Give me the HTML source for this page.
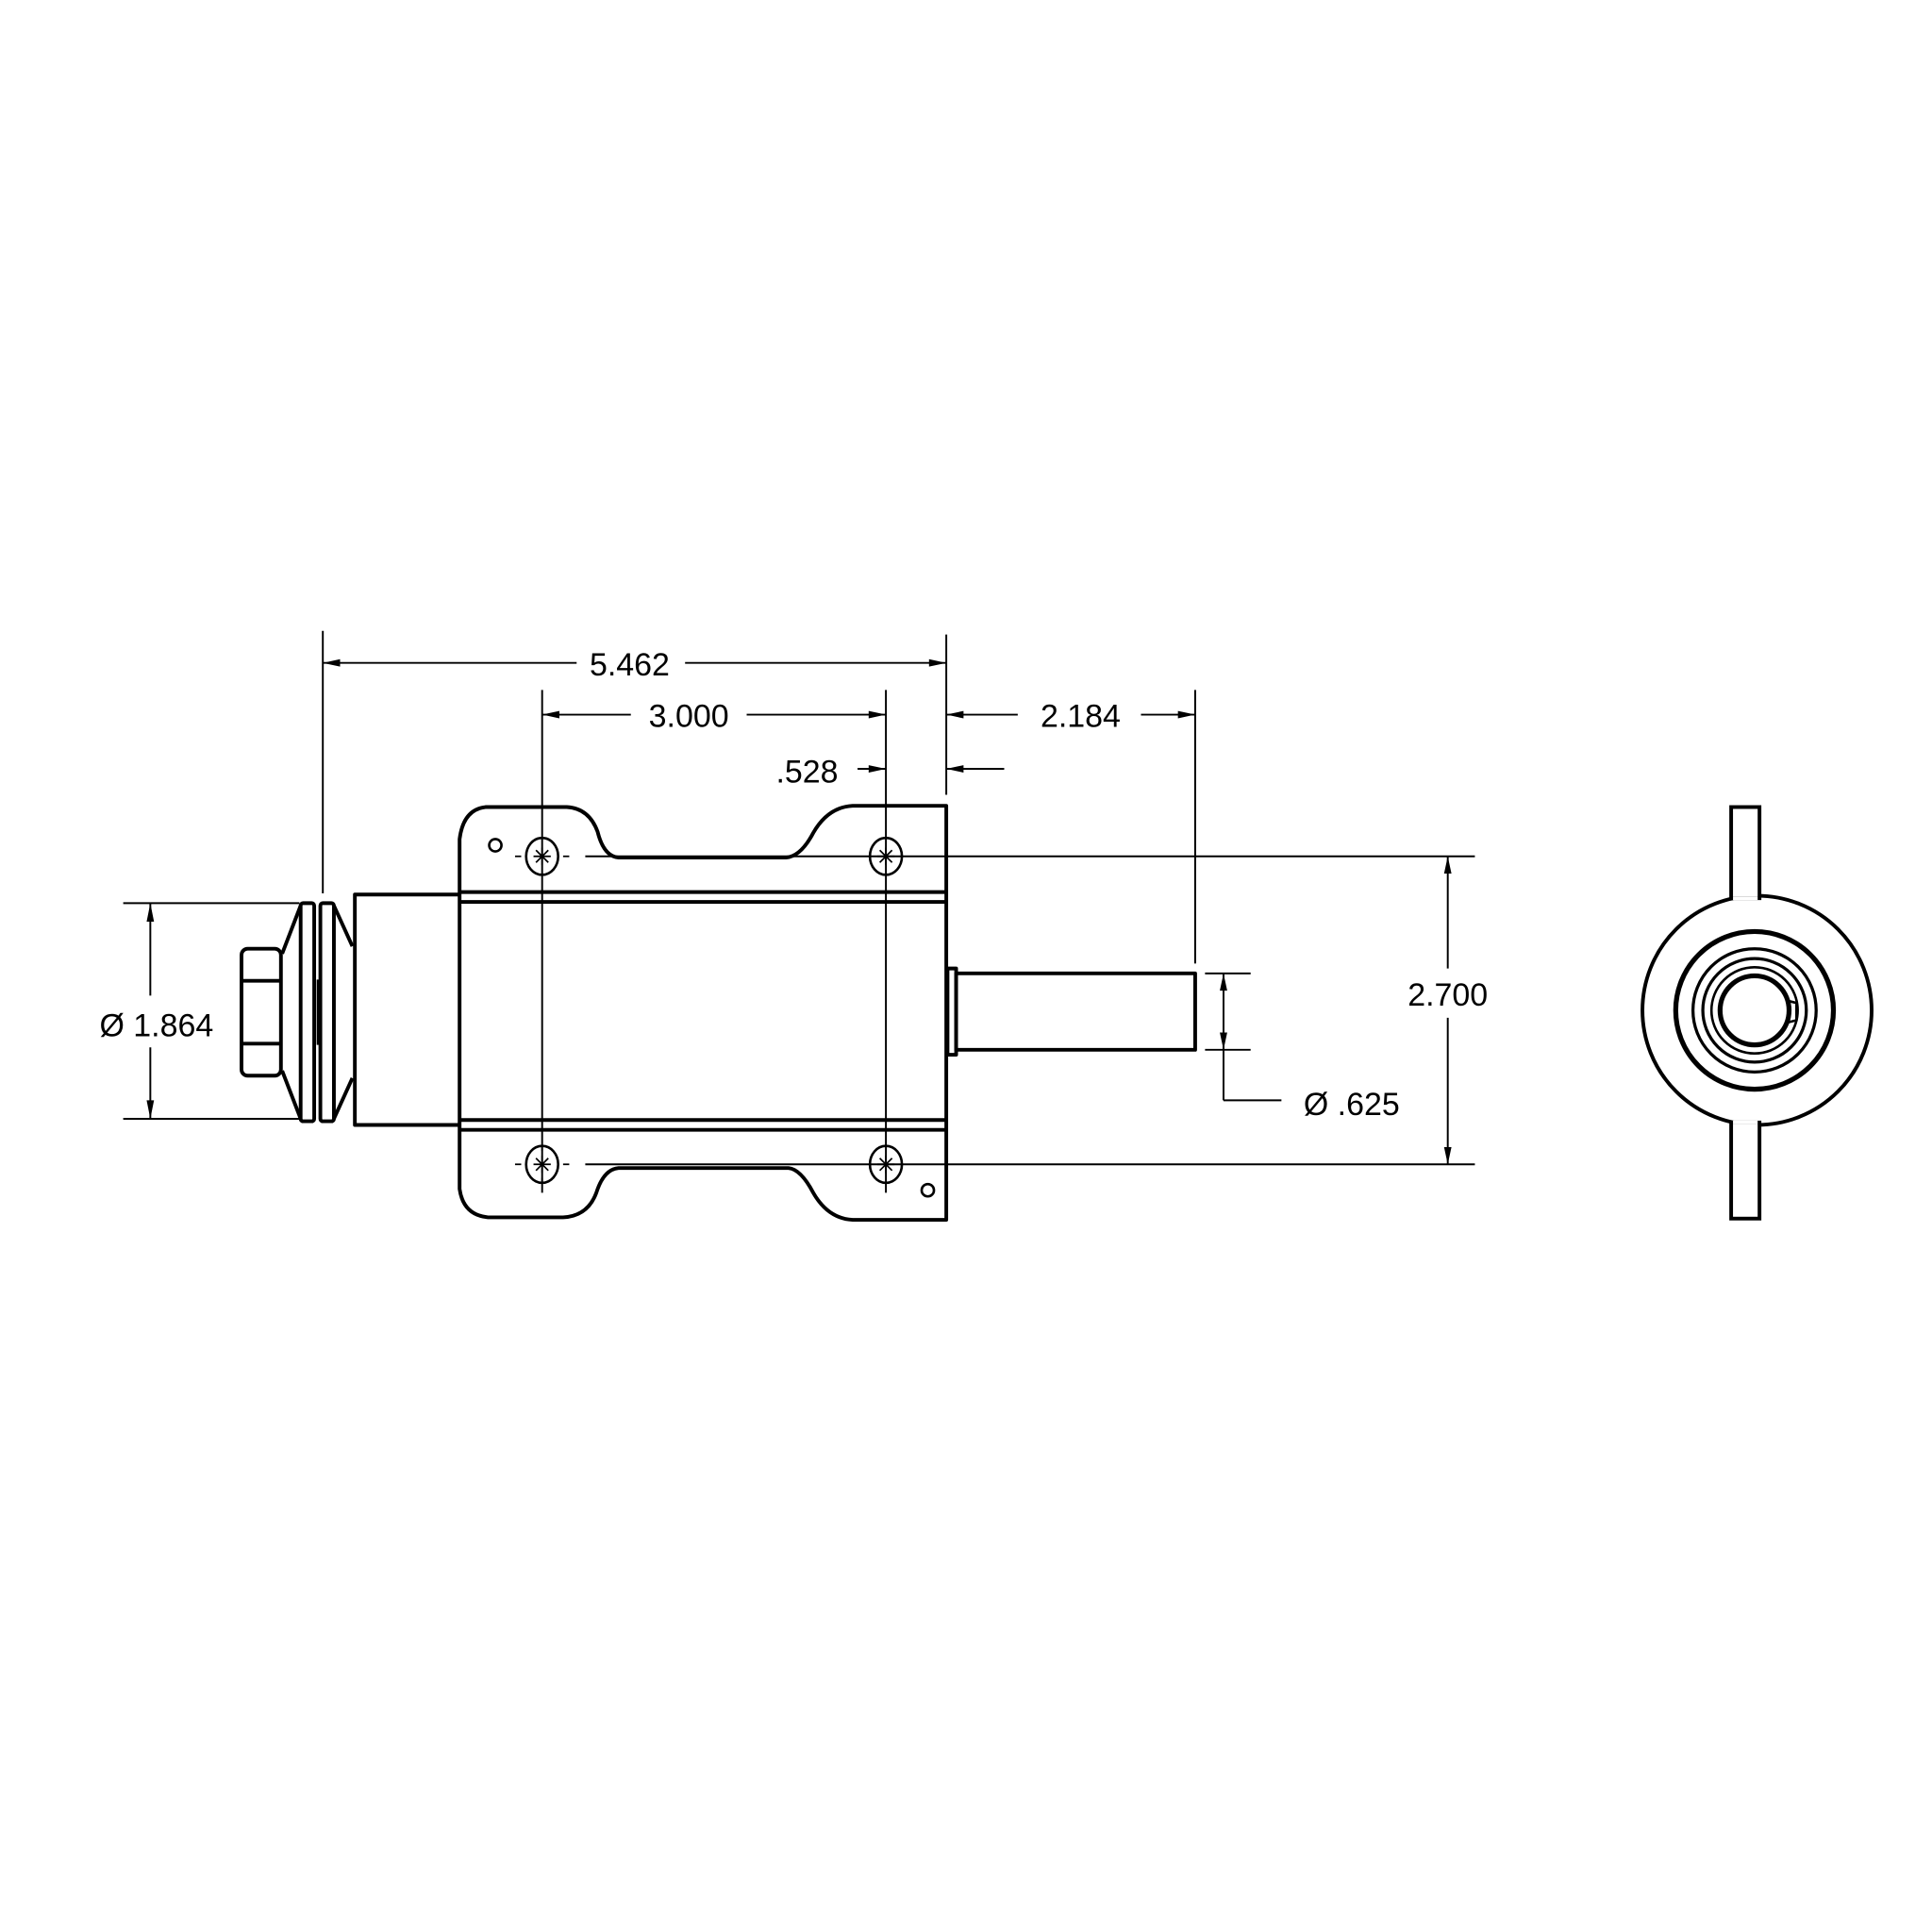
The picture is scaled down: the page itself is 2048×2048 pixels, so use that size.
<!DOCTYPE html>
<html><head><meta charset="utf-8"><style>
html,body{margin:0;padding:0;background:#fff;}
svg{display:block;}
text{font-family:"Liberation Sans",sans-serif;font-size:26px;fill:#000;}
</style></head><body>
<svg width="2048" height="2048" viewBox="0 0 1568 1568" xmlns="http://www.w3.org/2000/svg">
<rect width="1568" height="1568" fill="#fff"/>
<g fill="none" stroke="#000" stroke-width="1.5">
<line x1="262" y1="512" x2="262" y2="725"/>
<line x1="768" y1="515" x2="768" y2="645"/>
<line x1="262" y1="538" x2="468" y2="538"/>
<line x1="556" y1="538" x2="768" y2="538"/>
<line x1="440" y1="560" x2="440" y2="968"/>
<line x1="719" y1="560" x2="719" y2="968"/>
<line x1="440" y1="580" x2="512" y2="580"/>
<line x1="606" y1="580" x2="719" y2="580"/>
<line x1="970" y1="560" x2="970" y2="782"/>
<line x1="768" y1="580" x2="826" y2="580"/>
<line x1="926" y1="580" x2="970" y2="580"/>
<line x1="696" y1="624" x2="719" y2="624"/>
<line x1="768" y1="624" x2="815" y2="624"/>
<line x1="475" y1="695" x2="1197" y2="695"/>
<line x1="475" y1="945" x2="1197" y2="945"/>
<line x1="1175" y1="695" x2="1175" y2="786"/>
<line x1="1175" y1="826" x2="1175" y2="945"/>
<line x1="100" y1="733" x2="243" y2="733"/>
<line x1="100" y1="908" x2="243" y2="908"/>
<line x1="122" y1="733" x2="122" y2="808"/>
<line x1="122" y1="850" x2="122" y2="908"/>
<line x1="978" y1="790" x2="1015" y2="790"/>
<line x1="978" y1="852" x2="1015" y2="852"/>
<line x1="993" y1="790" x2="993" y2="893"/>
<line x1="993" y1="893" x2="1040" y2="893"/>
</g>
<g fill="#000">
<polygon points="262,538 276,535 276,541"/>
<polygon points="768,538 754,535 754,541"/>
<polygon points="440,580 454,577 454,583"/>
<polygon points="719,580 705,577 705,583"/>
<polygon points="768,580 782,577 782,583"/>
<polygon points="970,580 956,577 956,583"/>
<polygon points="719,624 705,621 705,627"/>
<polygon points="768,624 782,621 782,627"/>
<polygon points="1175,695 1172,709 1178,709"/>
<polygon points="1175,945 1172,931 1178,931"/>
<polygon points="122,733 119,748 125,748"/>
<polygon points="122,908 119,893 125,893"/>
<polygon points="993,790 990,804 996,804"/>
<polygon points="993,852 990,838 996,838"/>
</g>
<text x="511" y="548" text-anchor="middle">5.462</text>
<text x="559" y="590" text-anchor="middle">3.000</text>
<text x="877" y="590" text-anchor="middle">2.184</text>
<text x="655" y="635" text-anchor="middle">.528</text>
<text x="1175" y="816" text-anchor="middle">2.700</text>
<text x="127" y="841" text-anchor="middle">Ø 1.864</text>
<text x="1097" y="905" text-anchor="middle">Ø .625</text>

<g fill="none" stroke="#000" stroke-width="3" stroke-linejoin="round">
<path d="M373,681 Q376,657 394,655 L460,655 Q478,656 485,675 Q490,695 502,696 L638,696 Q650,695 660,676 Q672,655 692,654 L768,654 L768,990 L692,990 Q672,989 660,968 Q650,949 640,948 L502,948 Q490,949 484,968 Q477,987 457,988 L396,988 Q376,986 373,965 Z"/>
<line x1="373" y1="724" x2="768" y2="724"/>
<line x1="373" y1="732" x2="768" y2="732"/>
<line x1="373" y1="909" x2="768" y2="909"/>
<line x1="373" y1="917" x2="768" y2="917"/>
<path d="M373,726 L288,726 L288,913 L373,913"/>
<rect x="244" y="733" width="11" height="177" rx="2"/>
<rect x="260" y="733" width="11" height="177" rx="2"/>
<line x1="244" y1="735" x2="229" y2="774"/>
<line x1="244" y1="908" x2="229" y2="869"/>
<line x1="271" y1="735" x2="286" y2="768"/>
<line x1="271" y1="908" x2="286" y2="875"/>
<rect x="196" y="770" width="32" height="103" rx="5"/>
<line x1="196" y1="796" x2="228" y2="796"/>
<line x1="196" y1="847" x2="228" y2="847"/>
<rect x="769" y="786" width="7" height="70"/>
<rect x="776" y="790" width="194" height="62"/>
</g>
<g stroke="#000" stroke-width="2" fill="none">
<line x1="258" y1="795" x2="258" y2="848"/>
<circle cx="402" cy="686" r="5"/>
<circle cx="753" cy="966" r="5"/>
<ellipse cx="440" cy="695" rx="13" ry="15"/>
<ellipse cx="719" cy="695" rx="13" ry="15"/>
<ellipse cx="440" cy="945" rx="13" ry="15"/>
<ellipse cx="719" cy="945" rx="13" ry="15"/>
</g>
<g stroke="#000" stroke-width="1.3">
<path d="M433,695h14M440,688v14M435,690l10,10M445,690l-10,10"/>
<path d="M712,695h14M719,688v14M714,690l10,10M724,690l-10,10"/>
<path d="M433,945h14M440,938v14M435,940l10,10M445,940l-10,10"/>
<path d="M712,945h14M719,938v14M714,940l10,10M724,940l-10,10"/>
<path d="M418,695h5M457,695h5M418,945h5M457,945h5M440,929v5M440,956v5"/>
</g>

<!-- side view -->
<g fill="none" stroke="#000" stroke-width="3">
<circle cx="1426" cy="820" r="93"/>
<rect x="1405" y="655" width="23" height="74" fill="#fff"/>
<rect x="1405" y="911" width="23" height="78" fill="#fff"/>
<line x1="1406.5" y1="729" x2="1426.5" y2="729" stroke="#fff" stroke-width="3"/>
<line x1="1406.5" y1="911" x2="1426.5" y2="911" stroke="#fff" stroke-width="3"/>
<circle cx="1424" cy="820" r="64" stroke-width="4"/>
<circle cx="1424" cy="820" r="50" stroke-width="2.5"/>
<circle cx="1424" cy="820" r="42" stroke-width="2.5"/>
<circle cx="1424" cy="820" r="35" stroke-width="2"/>
<circle cx="1424" cy="820" r="28" stroke-width="4"/>
<path d="M1450,812 L1458,814 L1458,828 L1450,830" stroke-width="2"/>
</g>
</svg>
</body></html>
